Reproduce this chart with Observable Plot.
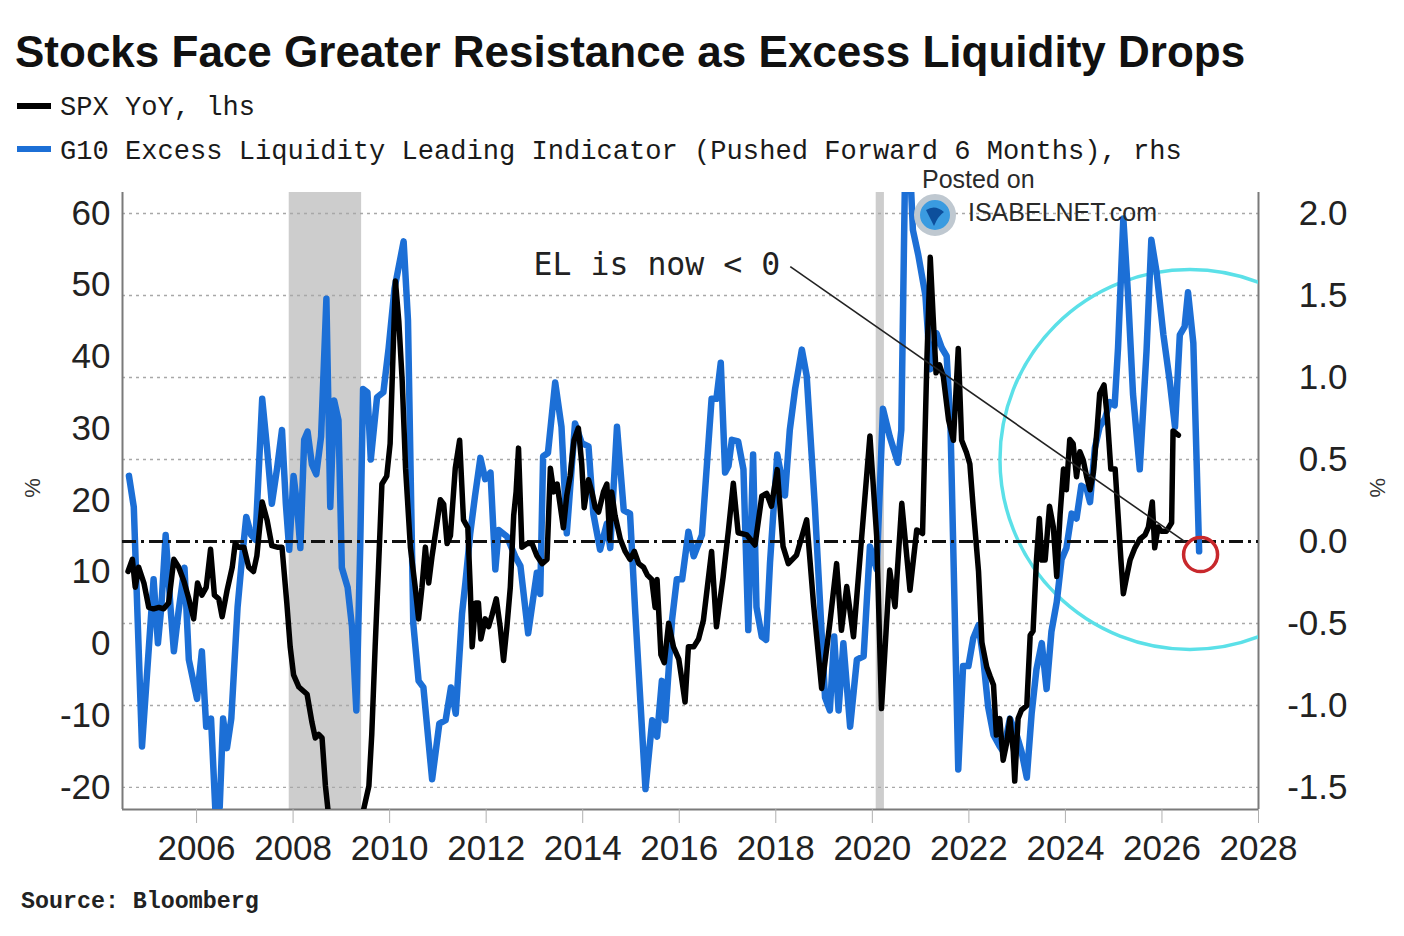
<!DOCTYPE html>
<html><head><meta charset="utf-8">
<script src="https://cdn.jsdelivr.net/npm/d3@7"></script>
<script src="https://cdn.jsdelivr.net/npm/@observablehq/plot@0.6"></script>
<style>
html,body{margin:0;padding:0;background:#fff;}
#page{position:relative;width:1404px;height:936px;overflow:hidden;background:#fff;}
.abs{position:absolute;white-space:nowrap;}
#title{left:15px;top:30px;font:bold 44px/44px "Liberation Sans",Arial,sans-serif;color:#111;}
.leg{left:60px;font:27.1px/26px "Liberation Mono",monospace;color:#1a1a1a;}
.sw{position:absolute;left:17px;width:34px;height:6px;}
#chart{position:absolute;left:0;top:160px;}
#source{left:21px;top:891px;font:bold 23.3px/23.3px "Liberation Mono",monospace;color:#222;}
.wm{font:25px/24px "Liberation Sans",Arial,sans-serif;color:#2a2a2a;}
</style></head>
<body><div id="page">
<div id="title" class="abs">Stocks Face Greater Resistance as Excess Liquidity Drops</div>
<div class="sw" style="top:103px;background:#000"></div>
<div class="abs leg" style="top:95px">SPX YoY, lhs</div>
<div class="sw" style="top:146px;background:#1c6fd6"></div>
<div class="abs leg" style="top:139px">G10 Excess Liquidity Leading Indicator (Pushed Forward 6 Months), rhs</div>
<div id="chart"></div>
<div id="source" class="abs">Source: Bloomberg</div>
<div class="abs wm" style="left:922px;top:167px">Posted on</div>
<svg class="abs" style="left:912px;top:192px" width="46" height="46"><circle cx="23" cy="23" r="18" fill="#3a9be0" stroke="#bfc8d0" stroke-width="6"/><path d="M14 18 Q23 12 32 20 Q26 24 22 34 Q18 26 14 18Z" fill="#0d4f9c"/></svg>
<div class="abs wm" style="left:968px;top:200px">ISABELNET.com</div>
</div>
<script>
// ---- data ----
const elDates = [2004.60,2004.70,2004.87,2005.11,2005.20,2005.27,2005.36,2005.46,2005.53,2005.63,2005.75,2005.84,2006.01,2006.11,2006.20,2006.30,2006.39,2006.48,2006.55,2006.63,2006.72,2006.85,2006.94,2007.03,2007.13,2007.22,2007.36,2007.46,2007.56,2007.67,2007.77,2007.85,2007.92,2008.01,2008.08,2008.15,2008.23,2008.30,2008.39,2008.48,2008.58,2008.69,2008.77,2008.85,2008.94,2009.01,2009.13,2009.22,2009.31,2009.39,2009.45,2009.54,2009.61,2009.74,2009.87,2009.98,2010.10,2010.29,2010.38,2010.49,2010.60,2010.70,2010.88,2011.03,2011.16,2011.27,2011.37,2011.50,2011.57,2011.67,2011.77,2011.88,2011.98,2012.09,2012.19,2012.26,2012.43,2012.60,2012.71,2012.87,2013.05,2013.12,2013.18,2013.28,2013.43,2013.56,2013.67,2013.84,2013.98,2014.12,2014.22,2014.36,2014.50,2014.57,2014.71,2014.85,2014.98,2015.09,2015.30,2015.44,2015.54,2015.64,2015.71,2015.85,2015.95,2016.06,2016.19,2016.30,2016.47,2016.67,2016.77,2016.86,2016.95,2017.02,2017.09,2017.22,2017.33,2017.43,2017.53,2017.60,2017.71,2017.80,2017.88,2018.03,2018.19,2018.29,2018.40,2018.54,2018.64,2018.81,2018.91,2019.02,2019.12,2019.21,2019.30,2019.40,2019.54,2019.68,2019.82,2019.95,2020.09,2020.22,2020.36,2020.53,2020.60,2020.68,2020.78,2020.84,2020.95,2021.10,2021.20,2021.33,2021.44,2021.54,2021.62,2021.78,2021.88,2021.99,2022.09,2022.20,2022.30,2022.40,2022.51,2022.64,2022.71,2022.85,2022.99,2023.09,2023.20,2023.30,2023.40,2023.51,2023.61,2023.71,2023.82,2023.92,2024.02,2024.13,2024.23,2024.33,2024.44,2024.51,2024.61,2024.71,2024.82,2024.92,2025.02,2025.09,2025.20,2025.30,2025.40,2025.54,2025.68,2025.78,2025.89,2026.03,2026.16,2026.27,2026.37,2026.47,2026.54,2026.65,2026.77];
const elValues = [0.40,0.21,-1.25,-0.23,-0.62,-0.40,0.04,-0.40,-0.67,-0.42,-0.16,-0.72,-0.96,-0.67,-1.13,-1.08,-1.64,-1.62,-1.08,-1.26,-1.08,-0.40,-0.11,0.15,0.04,0.01,0.87,0.57,0.23,0.45,0.68,0.23,-0.05,0.40,0.23,-0.04,0.62,0.67,0.47,0.41,0.64,1.48,0.21,0.86,0.74,-0.16,-0.28,-0.52,-1.03,-0.04,0.93,0.91,0.50,0.88,0.91,1.18,1.54,1.83,1.35,-0.50,-0.85,-0.89,-1.45,-1.11,-1.09,-0.89,-1.05,-0.44,-0.25,0.05,0.28,0.51,0.38,0.42,-0.17,0.07,0.03,-0.09,-0.15,-0.56,-0.19,-0.32,0.52,0.54,0.97,0.70,0.05,0.72,0.60,0.58,0.17,-0.05,0.11,-0.04,0.70,0.19,0.17,-0.44,-1.51,-1.09,-1.19,-0.85,-1.09,-0.48,-0.23,-0.23,0.06,-0.09,0.04,0.87,0.87,1.09,0.42,0.46,0.62,0.61,0.44,-0.54,0.53,-0.40,-0.58,-0.60,-0.13,0.53,0.28,0.68,0.93,1.17,1.01,0.21,-0.34,-0.95,-1.03,-0.58,-1.03,-0.62,-1.13,-0.72,-0.70,-0.03,-0.17,0.81,0.64,0.48,0.68,2.30,2.30,1.90,1.75,1.50,1.05,1.27,1.18,1.13,0.70,-1.39,-0.76,-0.76,-0.59,-0.51,-0.72,-1.01,-1.18,-1.25,-1.28,-1.08,-1.18,-1.28,-1.44,-1.05,-0.78,-0.62,-0.90,-0.55,-0.37,-0.11,-0.04,0.17,0.14,0.34,0.32,0.24,0.57,0.70,0.75,0.85,0.83,1.18,1.97,1.49,0.90,0.44,1.16,1.84,1.64,1.26,0.98,0.70,1.26,1.31,1.52,1.21,-0.06];

const spxDates = [2004.58,2004.67,2004.73,2004.80,2004.91,2005.01,2005.11,2005.22,2005.32,2005.42,2005.53,2005.63,2005.74,2005.84,2005.94,2006.02,2006.11,2006.20,2006.29,2006.37,2006.46,2006.53,2006.63,2006.74,2006.80,2006.87,2006.98,2007.08,2007.18,2007.25,2007.36,2007.46,2007.56,2007.67,2007.77,2007.87,2007.94,2008.01,2008.12,2008.29,2008.39,2008.46,2008.53,2008.60,2008.67,2008.74,2008.85,2009.00,2009.17,2009.33,2009.46,2009.57,2009.63,2009.70,2009.77,2009.84,2009.94,2010.01,2010.12,2010.19,2010.26,2010.33,2010.43,2010.53,2010.60,2010.67,2010.74,2010.81,2010.88,2010.98,2011.05,2011.12,2011.19,2011.26,2011.36,2011.45,2011.53,2011.62,2011.67,2011.71,2011.78,2011.84,2011.89,2011.98,2012.05,2012.12,2012.21,2012.29,2012.36,2012.43,2012.50,2012.57,2012.62,2012.67,2012.74,2012.85,2012.95,2013.05,2013.16,2013.26,2013.33,2013.40,2013.47,2013.54,2013.60,2013.67,2013.74,2013.82,2013.91,2013.98,2014.03,2014.12,2014.19,2014.26,2014.33,2014.43,2014.50,2014.56,2014.60,2014.67,2014.78,2014.88,2014.98,2015.07,2015.16,2015.26,2015.34,2015.43,2015.50,2015.54,2015.62,2015.69,2015.78,2015.88,2015.99,2016.05,2016.12,2016.19,2016.30,2016.40,2016.50,2016.67,2016.77,2016.91,2017.02,2017.12,2017.22,2017.40,2017.57,2017.71,2017.81,2017.91,2018.03,2018.15,2018.26,2018.43,2018.64,2018.78,2018.95,2019.12,2019.26,2019.36,2019.47,2019.61,2019.74,2019.95,2020.09,2020.19,2020.36,2020.47,2020.61,2020.78,2020.92,2021.04,2021.13,2021.20,2021.26,2021.32,2021.39,2021.47,2021.58,2021.68,2021.78,2021.85,2021.95,2022.02,2022.09,2022.20,2022.27,2022.37,2022.44,2022.51,2022.57,2022.64,2022.71,2022.78,2022.85,2022.92,2022.95,2023.02,2023.09,2023.20,2023.27,2023.33,2023.40,2023.46,2023.51,2023.58,2023.67,2023.75,2023.82,2023.89,2023.96,2024.02,2024.09,2024.16,2024.23,2024.30,2024.37,2024.44,2024.51,2024.58,2024.66,2024.71,2024.80,2024.87,2024.94,2025.03,2025.09,2025.15,2025.20,2025.27,2025.34,2025.44,2025.54,2025.65,2025.72,2025.80,2025.85,2025.92,2025.99,2026.09,2026.20,2026.23,2026.34];
const spxValues = [10.1,11.8,7.9,10.7,8.5,5.1,4.9,5.1,4.9,5.7,11.8,10.7,8.7,6.3,3.5,8.5,6.8,7.9,13.2,6.8,6.3,3.8,7.4,10.7,14.0,13.5,13.5,10.7,10.1,12.3,19.8,17.3,13.7,13.5,13.5,5.7,-0.4,-4.3,-6.0,-7.0,-10.9,-13.1,-12.6,-13.1,-19.8,-24.2,-32.0,-40.0,-45.0,-35.0,-23.1,-19.8,-12.6,-0.4,10.7,22.3,23.4,27.9,50.6,45.0,36.7,24.5,13.5,7.9,3.5,7.9,13.5,8.5,12.3,16.8,20.1,19.5,14.0,15.1,24.5,28.4,17.3,16.2,7.9,-0.4,5.7,5.7,0.7,3.5,2.4,4.0,6.3,2.4,-2.3,2.4,7.9,17.9,21.2,27.3,13.5,14.0,14.0,12.3,11.2,11.8,24.5,21.2,22.3,19.0,16.2,20.7,23.4,28.4,30.1,25.1,19.0,22.9,21.2,19.0,18.4,21.2,22.3,14.6,21.2,17.9,14.6,12.9,11.8,12.9,11.2,10.7,9.6,9.0,5.1,9.0,-1.5,-2.6,2.9,-0.4,-2.1,-4.8,-8.1,-0.4,-0.4,0.7,3.3,12.9,2.4,9.4,15.9,22.4,15.5,15.2,13.8,20.6,21.0,19.2,24.3,13.6,11.2,12.4,17.3,5.7,-6.2,2.9,11.2,1.9,8.0,1.0,11.7,29.0,15.0,-9.0,10.3,5.2,19.6,7.5,15.9,15.4,39.5,53.9,45.6,37.8,38.9,37.3,31.2,28.4,41.2,28.4,26.7,25.1,19.0,10.1,0.2,-3.2,-4.5,-5.7,-12.7,-10.4,-16.2,-13.9,-10.4,-15.0,-19.1,-10.4,-9.2,-8.6,1.2,1.8,11.7,17.5,11.7,11.7,19.2,16.3,9.4,18.1,24.4,21.5,28.5,27.9,23.3,26.8,25.6,23.3,21.5,23.9,30.3,34.9,36.1,31.4,24.4,24.4,18.1,11.7,7.0,9.4,11.7,13.4,14.6,15.2,16.3,19.8,13.4,16.3,15.7,15.7,16.9,29.7,29.1];

const recStart = [2007.92, 2020.08];
const recEnd = [2009.42, 2020.25];
const lhsTicks = [-20, -10, 0, 10, 20, 30, 40, 50, 60];
const rhsTicks = [-1.5, -1.0, -0.5, 0.0, 0.5, 1.0, 1.5, 2.0];
const rhsGrid = [-1.5, -1.0, -0.5, 0.5, 1.0, 1.5, 2.0];
const xTicks = [2006, 2008, 2010, 2012, 2014, 2016, 2018, 2020, 2022, 2024, 2026, 2028];
const xDomain = [2004.466, 2028];
const yDomain = [-23.07, 62.93];
// annotation anchors (data units: date, SPX-% / EL)
const noteText = ["EL is now < 0"];
const noteAt = {date: 2018.09, spx: 52.9};
const arrowFrom = {date: 2018.30, spx: 52.6};
const arrowTo = {date: 2026.52, el: -0.01};
const redMark = {date: 2026.80, el: -0.08};
const cyanMark = {date: 2026.58, el: 0.50};

// rhs (EL) -> lhs scale mapping: 2.0 <-> 60, -1.5 <-> -20
const toLeft = r => 14.2857 + 22.857 * r;

const el = elDates.map((d, i) => ({date: d, value: toLeft(elValues[i])}));
const spx = spxDates.map((d, i) => ({date: d, value: spxValues[i]}));
const rec = recStart.map((s, i) => ({start: s, end: recEnd[i]}));

const chart = Plot.plot({
  width: 1404, height: 720,
  marginTop: 32, marginBottom: 71, marginLeft: 122, marginRight: 146,
  x: {domain: xDomain, label: null},
  y: {domain: yDomain, label: null},
  style: {fontFamily: '"Liberation Sans", Arial, sans-serif', fontSize: "35px", color: "#222", background: "transparent", overflow: "visible"},
  marks: [
    Plot.rect(rec, {x1: "start", x2: "end", fill: "#cdcdcd"}),
    Plot.ruleY(rhsGrid.map(toLeft), {stroke: "#a8a8a8", strokeWidth: 1.3, strokeDasharray: "3,4"}),
    Plot.ruleX([xDomain[0]], {stroke: "#7a7a7a", strokeWidth: 2}),
    Plot.ruleX([xDomain[1]], {stroke: "#7a7a7a", strokeWidth: 2}),
    Plot.ruleY([yDomain[0]], {stroke: "#7a7a7a", strokeWidth: 2}),
    Plot.dot([cyanMark], {x: "date", y: d => toLeft(d.el), r: 190, stroke: "#5be0e8", strokeWidth: 3.5, fill: "none", clip: true}),
    Plot.line(el, {x: "date", y: "value", stroke: "#1c6fd6", strokeWidth: 6.5, strokeLinejoin: "round", clip: true}),
    Plot.ruleY([toLeft(0)], {stroke: "#111", strokeWidth: 3, strokeDasharray: "14,5,3,5"}),
    Plot.line(spx, {x: "date", y: "value", stroke: "#000", strokeWidth: 5.5, strokeLinejoin: "round", clip: true}),
    Plot.link([{}], {x1: () => arrowFrom.date, y1: () => arrowFrom.spx, x2: () => arrowTo.date, y2: () => toLeft(arrowTo.el), stroke: "#222", strokeWidth: 1.6}),
    Plot.dot([redMark], {x: "date", y: d => toLeft(d.el), r: 17, stroke: "#c8282c", strokeWidth: 3.5, fill: "none"}),
    Plot.text(noteText, {x: () => noteAt.date, y: () => noteAt.spx, text: d => d, textAnchor: "end", fontFamily: '"DejaVu Sans Mono", monospace', fontSize: 31.5, fill: "#222"}),
    Plot.axisY({ticks: lhsTicks, tickSize: 0, tickPadding: 12, tickFormat: d => String(d), fill: "#222"}),
    Plot.text(rhsTicks, {y: d => toLeft(d), text: d => d.toFixed(1), frameAnchor: "right", dx: 89, textAnchor: "end", fill: "#222"}),
    Plot.axisX({ticks: xTicks, tickSize: 14, tickPadding: 12, tickFormat: d => String(d), stroke: "#b0b0b0", fill: "#222"}),
    Plot.text(["%"], {frameAnchor: "left", y: () => 20.4, dx: -90, rotate: -90, fontSize: 22, fill: "#333"}),
    Plot.text(["%"], {frameAnchor: "right", y: () => 20.4, dx: 119, rotate: 90, fontSize: 22, fill: "#333"})
  ]
});
document.getElementById("chart").append(chart);
</script>
</body></html>
